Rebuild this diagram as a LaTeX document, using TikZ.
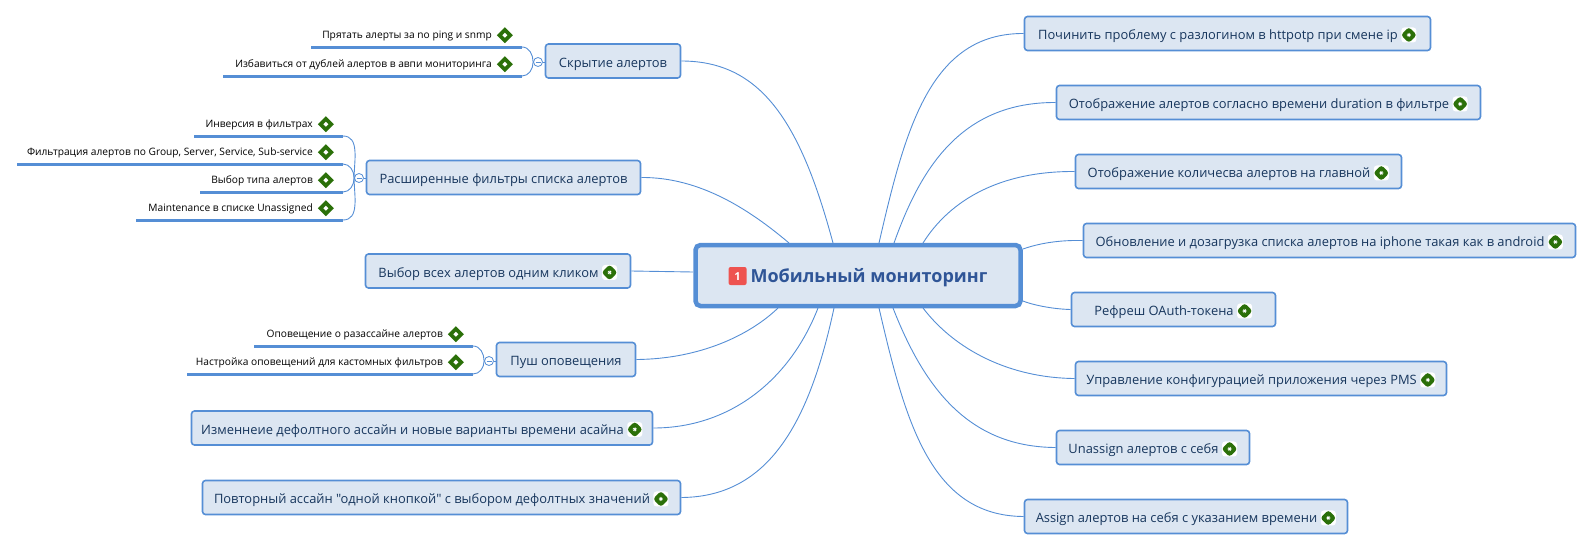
\documentclass[tikz,border=0pt]{standalone}
\usepackage{fontspec}
\setmainfont[Ligatures=TeXOff]{Open Sans}
\definecolor{topicfill}{HTML}{DCE6F2}
\definecolor{topicline}{HTML}{558ED5}
\definecolor{topictext}{HTML}{17365D}
\definecolor{maintext}{HTML}{2F5597}
\definecolor{taskgreen}{HTML}{2B7009}
\definecolor{badgered}{HTML}{EE5350}
\tikzset{
  topic/.style={draw=topicline,fill=topicfill,line width=1.6pt,rounded corners=3pt,
    minimum height=34pt,inner sep=0pt,text=topictext,text height=14pt,text depth=2pt,
    font=\fontsize{12.9}{16}\selectfont},
  maintopic/.style={draw=topicline,fill=topicfill,line width=4.5pt,rounded corners=5pt,
    inner sep=0pt,text=maintext,text height=15pt,text depth=2pt,
    font=\fontsize{18}{22}\selectfont\bfseries},
  subtopic/.style={anchor=south east,inner xsep=9pt,inner ysep=3.5pt,text height=8pt,text depth=4.5pt,
    font=\fontsize{10.2}{13}\selectfont},
  subline/.style={draw=topicline,line width=3pt},
  branch/.style={draw=topicline,line width=.9pt},
  fold/.style={circle,draw=topicline,fill=white,line width=.8pt,minimum size=9pt,inner sep=0pt,
    path picture={\draw[topicline,line width=.6pt] (-2.5pt,0pt) -- (2.5pt,0pt);}}
}
\newcommand{\taskicon}{\hspace{3pt}\tikz[baseline=-.35em]{\fill[white] (-7.5pt,-7.5pt) rectangle (7.5pt,7.5pt);
  \fill[taskgreen] (-8pt,0pt) -- (0pt,8pt) -- (8pt,0pt) -- (0pt,-8pt) -- cycle;
  \fill[white] (-2.5pt,0pt) -- (0pt,2.5pt) -- (2.5pt,0pt) -- (0pt,-2.5pt) -- cycle;}}
\newcommand{\subicon}{\hspace{2pt}\taskicon}
\newcommand{\badgeone}{\tikz[baseline=-6pt]{\node[fill=badgered,rounded corners=2pt,minimum size=18pt,inner sep=0pt,
  text=white,text height=8pt,text depth=0pt,font=\fontsize{11}{11}\selectfont\bfseries] {1};}}
\begin{document}
\begin{tikzpicture}[x=1pt,y=-1pt]
\useasboundingbox (0,0) rectangle (1593,552);

% where the curves leave the central topic
\coordinate (north1) at (789,243);
\coordinate (north2) at (833,243);
\coordinate (north3) at (879,243);
\coordinate (north4) at (894,243);
\coordinate (north5) at (923,243);
\coordinate (east1) at (1023,249);
\coordinate (east2) at (1023,301);
\coordinate (west1) at (693,272);
\coordinate (south1) at (778,308);
\coordinate (south2) at (818,308);
\coordinate (south3) at (834,308);
\coordinate (south4) at (879,308);
\coordinate (south5) at (893,308);
\coordinate (south6) at (923,308);

% central topic
\node[maintopic,minimum width=325pt,minimum height=61pt] (mobile) at (858,275.5) {\badgeone\hspace{4pt}Мобильный мониторинг};

% right side
\node[topic,minimum width=406pt] (httpotp) at (1227.5,33.5) {Починить проблему с разлогином в httpotp при смене ip\taskicon};
\node[topic,minimum width=424pt] (duration) at (1268.5,102.5) {Отображение алертов согласно времени duration в фильтре\taskicon};
\node[topic,minimum width=326pt] (counter) at (1238.5,171.5) {Отображение количесва алертов на главной\taskicon};
\node[topic,minimum width=492pt] (iphone) at (1329.5,240.5) {Обновление и дозагрузка списка алертов на iphone такая как в android\taskicon};
\node[topic,minimum width=204pt] (oauth) at (1173.5,309.5) {Рефреш OAuth-токена\taskicon};
\node[topic,minimum width=371pt] (pms) at (1261,378.5) {Управление конфигурацией приложения через PMS\taskicon};
\node[topic,minimum width=193pt] (unassign) at (1153,447.5) {Unassign алертов с себя\taskicon};
\node[topic,minimum width=323pt] (assign) at (1186,516.5) {Assign алертов на себя с указанием времени\taskicon};

% left side
\node[topic,minimum width=135pt] (hide) at (613,61) {Скрытие алертов};
\node[topic,minimum width=274pt] (filters) at (503.5,177.5) {Расширенные фильтры списка алертов};
\node[topic,minimum width=265pt] (selectall) at (498,271) {Выбор всех алертов одним кликом\taskicon};
\node[topic,minimum width=139pt] (push) at (566,359.5) {Пуш оповещения};
\node[topic,minimum width=461pt] (change) at (422,428) {Изменнеие дефолтного ассайн и новые варианты времени асайна\taskicon};
\node[topic,minimum width=478pt] (repeat) at (441.5,497.5) {Повторный ассайн "одной кнопкой" с выбором дефолтных значений\taskicon};

% subtopics
\node[subtopic] (noping) at (522,47) {Прятать алерты за no ping и snmp\subicon};
\node[subtopic] (dubli) at (522,76) {Избавиться от дублей алертов в авпи мониторинга\subicon};
\node[subtopic] (inversion) at (343,136) {Инверсия в фильтрах\subicon};
\node[subtopic] (group) at (343,164) {Фильтрация алертов по Group, Server, Service, Sub-service\subicon};
\node[subtopic] (alerttype) at (343,192) {Выбор типа алертов\subicon};
\node[subtopic] (maintenance) at (343,220) {Maintenance в списке Unassigned\subicon};
\node[subtopic] (razassign) at (473,346) {Оповещение о разассайне алертов\subicon};
\node[subtopic] (custom) at (473,374) {Настройка оповещений для кастомных фильтров\subicon};

\foreach \nm/\len in {noping/211,dubli/299,inversion/149,group/326,alerttype/143,maintenance/207,razassign/219,custom/286}
  \draw[subline] (\nm.south east) -- ++(-\len,0);

% fold marks
\node[fold] (foldhide) at (538,62) {};
\node[fold] (foldfilters) at (359,178) {};
\node[fold] (foldpush) at (489,361) {};
\foreach \a/\b in {foldhide/hide,foldfilters/filters,foldpush/push}
  \draw[branch] (\a) -- (\b.west |- \a);

\foreach \a/\b/\ang in {foldhide/noping/90,foldhide/dubli/-90,foldfilters/inversion/90,foldfilters/group/90,foldfilters/alerttype/-90,foldfilters/maintenance/-90,foldpush/razassign/90,foldpush/custom/-90}
  \draw[branch] (\a.west) to[out=\ang,in=0] (\b.south east);

% branches
\draw[branch] (north3) .. controls (905,130) and (930,33) .. (httpotp.west);
\draw[branch] (north4) .. controls (920,170) and (960,102) .. (duration.west);
\draw[branch] (north5) .. controls (950,200) and (1000,171) .. (counter.west);
\draw[branch] (east1) .. controls (1040,243) and (1060,240) .. (iphone.west);
\draw[branch] (east2) .. controls (1030,304) and (1050,309) .. (oauth.west);
\draw[branch] (south6) .. controls (955,350) and (1010,378) .. (pms.west);
\draw[branch] (south5) .. controls (925,390) and (970,447) .. (unassign.west);
\draw[branch] (south4) .. controls (905,420) and (930,516) .. (assign.west);
\draw[branch] (north2) .. controls (800,120) and (760,61) .. (hide.east);
\draw[branch] (north1) .. controls (750,210) and (700,177) .. (filters.east);
\draw[branch] (west1) -- (selectall.east);
\draw[branch] (south1) .. controls (750,335) and (700,359) .. (push.east);
\draw[branch] (south2) .. controls (790,380) and (730,428) .. (change.east);
\draw[branch] (south3) .. controls (810,420) and (770,497) .. (repeat.east);
\end{tikzpicture}
\end{document}
